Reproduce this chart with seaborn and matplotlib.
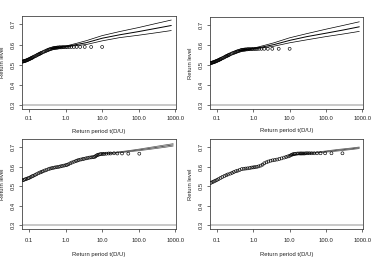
import matplotlib
matplotlib.use("Agg")
import matplotlib.pyplot as plt
import seaborn as sns
import pandas as pd

# ---------------- data ----------------
tl_x = [10, 5, 3.33, 2.5, 2.0, 1.67, 1.43, 1.25, 1.11, 1.0, 0.91, 0.83, 0.77, 0.71, 0.67,
        0.62, 0.59, 0.56, 0.53, 0.50, 0.47, 0.44, 0.41, 0.38, 0.36, 0.34, 0.32, 0.30, 0.28,
        0.26, 0.24, 0.22, 0.21, 0.20, 0.19, 0.18, 0.17, 0.16, 0.15, 0.14, 0.13, 0.125, 0.12,
        0.115, 0.11, 0.105, 0.10, 0.096, 0.092, 0.088, 0.084, 0.080, 0.077, 0.074, 0.071,
        0.068, 0.065]
tl_y = [0.588, 0.588, 0.588, 0.588, 0.588, 0.588, 0.588, 0.588, 0.587, 0.587, 0.587, 0.587,
        0.586, 0.586, 0.586, 0.585, 0.585, 0.584, 0.584, 0.583, 0.582, 0.581, 0.579, 0.577,
        0.576, 0.574, 0.572, 0.570, 0.567, 0.565, 0.562, 0.559, 0.557, 0.555, 0.553, 0.551,
        0.549, 0.546, 0.543, 0.541, 0.538, 0.536, 0.534, 0.533, 0.531, 0.529, 0.527, 0.526,
        0.524, 0.523, 0.521, 0.520, 0.519, 0.518, 0.517, 0.516, 0.515]
tl_fx = [0.4, 0.6, 1, 2, 3.7, 10, 30, 100, 300, 780]
tl_mid = [0.580, 0.585, 0.590, 0.600, 0.609, 0.631, 0.648, 0.664, 0.680, 0.694]
tl_up = [0.580, 0.586, 0.592, 0.606, 0.619, 0.644, 0.664, 0.684, 0.704, 0.721]
tl_lo = [0.580, 0.584, 0.588, 0.595, 0.600, 0.618, 0.634, 0.646, 0.658, 0.669]

tr_x = tl_x
tr_y = [0.582, 0.582, 0.582, 0.582, 0.582, 0.582, 0.582, 0.581, 0.581, 0.581, 0.581, 0.580,
        0.580, 0.580, 0.579, 0.579, 0.578, 0.578, 0.577, 0.577, 0.576, 0.574, 0.572, 0.570,
        0.569, 0.567, 0.565, 0.563, 0.561, 0.559, 0.556, 0.553, 0.551, 0.549, 0.547, 0.545,
        0.543, 0.540, 0.537, 0.535, 0.532, 0.530, 0.529, 0.527, 0.525, 0.524, 0.522, 0.521,
        0.519, 0.518, 0.516, 0.515, 0.514, 0.513, 0.512, 0.511, 0.510]
tr_fx = [0.4, 0.6, 1, 2, 3.7, 10, 30, 100, 300, 830]
tr_mid = [0.572, 0.578, 0.583, 0.593, 0.603, 0.624, 0.643, 0.660, 0.676, 0.692]
tr_up = [0.572, 0.579, 0.585, 0.599, 0.612, 0.637, 0.658, 0.680, 0.699, 0.717]
tr_lo = [0.572, 0.577, 0.581, 0.588, 0.595, 0.612, 0.627, 0.643, 0.656, 0.669]

bl_x = [104, 52, 35, 26, 21, 17, 15, 13, 11.5, 10.4, 9.5, 8.7, 8.0, 7.4, 6.9, 6.5, 6.1, 5.5,
        5.0, 4.5, 4.0, 3.6, 3.2, 2.9, 2.6, 2.3, 2.1, 1.9, 1.7, 1.5, 1.35, 1.2, 1.1, 1.0, 0.9,
        0.8, 0.72, 0.65, 0.58, 0.52, 0.47, 0.42, 0.38, 0.34, 0.30, 0.27, 0.24, 0.22, 0.20,
        0.18, 0.16, 0.145, 0.13, 0.12, 0.11, 0.10, 0.092, 0.085, 0.078, 0.072, 0.066]
bl_y = [0.666, 0.666, 0.667, 0.667, 0.668, 0.667, 0.667, 0.666, 0.665, 0.665, 0.664, 0.663,
        0.661, 0.659, 0.656, 0.652, 0.649, 0.648, 0.647, 0.646, 0.644, 0.642, 0.640, 0.638,
        0.636, 0.634, 0.631, 0.628, 0.625, 0.621, 0.617, 0.612, 0.609, 0.607, 0.605, 0.603,
        0.601, 0.599, 0.597, 0.596, 0.594, 0.592, 0.590, 0.587, 0.583, 0.580, 0.576, 0.573,
        0.570, 0.566, 0.561, 0.557, 0.553, 0.550, 0.546, 0.542, 0.540, 0.537, 0.535, 0.532,
        0.530]
bl_fx = [10, 20, 50, 100, 200, 500, 880]
bl_mid = [0.666, 0.670, 0.678, 0.685, 0.693, 0.704, 0.711]
bl_up = [0.667, 0.672, 0.681, 0.689, 0.698, 0.710, 0.717]
bl_lo = [0.665, 0.668, 0.675, 0.681, 0.688, 0.698, 0.705]

br_x = [285, 142, 95, 71, 57, 47.5, 40.7, 35.6, 31.7, 28.5, 25.9, 23.8, 21.9, 20.4, 19, 17,
        15.5, 14, 12.9, 12, 11, 10, 9, 8, 7, 6, 5.2, 4.5, 3.9, 3.4, 3.0, 2.6, 2.3, 2.0, 1.8,
        1.6, 1.4, 1.25, 1.1, 1.0, 0.9, 0.8, 0.7, 0.62, 0.55, 0.48, 0.42, 0.37, 0.33, 0.29,
        0.26, 0.23, 0.2, 0.18, 0.16, 0.14, 0.125, 0.11, 0.1, 0.09, 0.082, 0.075, 0.068]
br_y = [0.668, 0.668, 0.668, 0.668, 0.668, 0.668, 0.668, 0.668, 0.668, 0.668, 0.667, 0.667,
        0.667, 0.667, 0.667, 0.667, 0.666, 0.665, 0.664, 0.662, 0.659, 0.655, 0.652, 0.649,
        0.646, 0.642, 0.639, 0.636, 0.634, 0.632, 0.630, 0.626, 0.622, 0.617, 0.610, 0.605,
        0.601, 0.599, 0.597, 0.596, 0.595, 0.593, 0.591, 0.590, 0.589, 0.587, 0.583, 0.579,
        0.576, 0.572, 0.568, 0.564, 0.560, 0.556, 0.552, 0.547, 0.542, 0.536, 0.532, 0.528,
        0.524, 0.521, 0.517]
br_fx = [10, 20, 50, 100, 200, 500, 830]
br_mid = [0.658, 0.664, 0.671, 0.677, 0.683, 0.691, 0.696]
br_up = [0.659, 0.665, 0.673, 0.680, 0.687, 0.695, 0.700]
br_lo = [0.657, 0.663, 0.669, 0.674, 0.679, 0.687, 0.692]

x_ticks = [0.1, 1, 10, 100, 1000]
x_ticklabels = ["0.1", "1.0", "10.0", "100.0", "1000.0"]
y_ticks = [0.3, 0.4, 0.5, 0.6, 0.7]
y_ticklabels = ["0.3", "0.4", "0.5", "0.6", "0.7"]
x_label = "Return period t(D/U)"
y_label = "Return level"

# ---------------- figure ----------------
sns.set_style("white")
plt.rcParams["font.family"] = ["Liberation Sans", "DejaVu Sans"]

W, H = 373, 258
fig = plt.figure(figsize=(W / 100, H / 100), dpi=100)


def px_axes(l, t, r, b):
    return fig.add_axes([l / W, 1 - b / H, (r - l) / W, (b - t) / H])


panels = [
    ((22, 16, 176, 109), tl_x, tl_y, tl_fx, tl_mid, tl_up, tl_lo, "black", 2.5, -0.21),
    ((210, 17, 363, 109), tr_x, tr_y, tr_fx, tr_mid, tr_up, tr_lo, "black", 2.5, -0.21),
    ((22, 139, 176, 229), bl_x, bl_y, bl_fx, bl_mid, bl_up, bl_lo, "#555555", 4.0, -0.26),
    ((210, 139, 363, 229), br_x, br_y, br_fx, br_mid, br_up, br_lo, "#555555", 4.0, -0.26),
]

FS = 4.2
for box, px, py, fx, mid, up, lo, lcol, xpad, xlab_y in panels:
    ax = px_axes(*box)
    ax.set_xscale("log")
    ax.axhline(0.302, color="#c4c4c4", lw=1.3, zorder=1)
    for yy, lw in ((up, 0.5), (mid, 0.7), (lo, 0.5)):
        sns.lineplot(x=fx, y=yy, ax=ax, color=lcol, lw=lw, zorder=2)
    sns.scatterplot(x=px, y=py, ax=ax, s=4.5, zorder=3)
    coll = ax.collections[-1]
    coll.set_facecolor("none")
    coll.set_edgecolor("black")
    coll.set_linewidth(0.45)
    ax.set_xlim(0.064, 1050)
    ax.set_ylim(0.281, 0.741)
    ax.set_xticks(x_ticks)
    ax.set_xticklabels(x_ticklabels)
    ax.xaxis.set_minor_locator(matplotlib.ticker.NullLocator())
    ax.set_yticks(y_ticks)
    ax.set_yticklabels(y_ticklabels, rotation=90, va="center")
    ax.tick_params(axis="both", direction="out", length=2.2, width=0.5, color="#333333",
                   labelsize=FS, labelcolor="#222222", pad=2.5, bottom=True, left=True)
    ax.tick_params(axis="x", pad=xpad)
    for s in ax.spines.values():
        s.set_color("#444444")
        s.set_linewidth(0.6)
    ax.set_xlabel(x_label, fontsize=FS, color="#222222")
    ax.set_ylabel(y_label, fontsize=FS, color="#222222", va="center")
    ax.xaxis.set_label_coords(0.5, xlab_y)
    ax.yaxis.set_label_coords(-0.125, 0.5)
    ax.set_facecolor("white")

fig.savefig("out.png", dpi=100, facecolor="white")
